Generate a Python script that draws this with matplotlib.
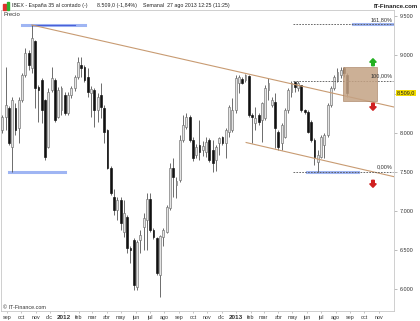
import matplotlib
matplotlib.use('Agg')
import matplotlib.pyplot as plt
from matplotlib.patches import Rectangle, FancyArrow
import numpy as np
import pandas as pd

plt.rcParams['font.family'] = ['Liberation Sans', 'DejaVu Sans']

# velas semanales IBEX, desde la semana del 22 ago 2011
first_week = pd.Timestamp('2011-08-22')
opens = [8038, 8204, 8319, 7821, 8319, 8064, 8422, 8742, 9023, 8831,
         9176, 8588, 8678, 8422, 7821, 8550, 8678, 8204, 8294, 8486,
         8256, 8486, 8575, 8716, 8869, 8844, 8716, 8511, 8550, 8294,
         8486, 8319, 8038, 7552, 7181, 7015, 7143, 6733, 6925, 6529,
         6631, 6030, 6630, 6797, 6887, 7155, 6759, 6656, 6183, 6669,
         6733, 7040, 7552, 7334, 7398, 7910, 8077, 8204, 7910, 7718,
         7847, 7782, 7757, 7910, 7782, 7654, 7872, 7949, 7872, 8013,
         8038, 8294, 8639, 8690, 8678, 8729, 8230, 8128, 8230, 8166,
         8192, 8550, 8358, 8396, 8013, 7872, 7949, 8294, 8524, 8652,
         8575, 8614, 8294, 8268, 8140, 7910, 7629, 7693, 7847, 7974,
         8358, 8575, 8678, 8742, 8831, 8742]
highs = [8230, 8844, 8345, 8460, 8383, 8460, 8767, 9087, 9061, 9381,
         9189, 8614, 8703, 8430, 8575, 8844, 8703, 8588, 8601, 8524,
         8524, 8601, 8742, 8972, 8972, 8869, 8831, 8601, 8575, 8511,
         8639, 8358, 8050, 7580, 7280, 7181, 7181, 7143, 6951, 6554,
         6656, 6631, 6760, 6976, 7232, 7232, 6785, 6669, 6695, 6785,
         7079, 7616, 7680, 7437, 7974, 8230, 8250, 8230, 7949, 7860,
         8166, 7900, 7949, 7936, 7910, 7847, 7949, 7960, 8064, 8358,
         8447, 8742, 8742, 8716, 8755, 8742, 8256, 8332, 8260, 8396,
         8614, 8703, 8460, 8511, 8038, 8128, 8320, 8575, 8660, 8671,
         8660, 8620, 8310, 8294, 8160, 7936, 7782, 7974, 8000, 8380,
         8600, 8740, 8831, 8844, 8844, 8767]
lows = [8000, 8038, 7847, 7501, 7974, 7872, 8396, 8716, 8806, 8767,
        8319, 8140, 8128, 7654, 7808, 8524, 8140, 8192, 8230, 8230,
        8230, 8447, 8540, 8690, 8716, 8652, 8460, 8204, 8077, 8140,
        8192, 7872, 7540, 7206, 6951, 6887, 6759, 6669, 6465, 6337,
        5991, 5991, 6465, 6503, 6503, 6733, 6640, 6183, 5902, 6550,
        6720, 7015, 7181, 7168, 7373, 7885, 8050, 7880, 7640, 7680,
        7654, 7700, 7690, 7629, 7501, 7520, 7718, 7840, 7680, 7949,
        8013, 8256, 8511, 8626, 8652, 8204, 7872, 8038, 8100, 7885,
        8166, 8422, 8330, 7808, 7782, 7782, 7930, 8256, 8460, 8524,
        8540, 8268, 8240, 8000, 7890, 7591, 7505, 7680, 7680, 7950,
        8330, 8550, 8652, 8703, 8716, 8460]
closes = [8204, 8358, 7872, 8422, 8038, 8422, 8742, 9023, 8869, 9215,
          8575, 8550, 8294, 7693, 8524, 8703, 8166, 8550, 8575, 8256,
          8486, 8575, 8716, 8908, 8831, 8678, 8524, 8563, 8294, 8460,
          8332, 8013, 7552, 7232, 7015, 7143, 6848, 6976, 6529, 6503,
          6055, 6605, 6700, 6912, 7155, 6759, 6669, 6209, 6682, 6759,
          7053, 7552, 7437, 7385, 7910, 8102, 8204, 7910, 7680, 7821,
          7757, 7834, 7885, 7654, 7616, 7821, 7936, 7872, 8038, 8332,
          8294, 8703, 8716, 8639, 8742, 8230, 8204, 8192, 8140, 8383,
          8575, 8639, 8422, 8064, 7821, 8102, 8294, 8550, 8639, 8588,
          8639, 8294, 8268, 8013, 7910, 7693, 7718, 7949, 7974, 8358,
          8575, 8716, 8780, 8806, 8767, 8509]

month_labels = ['sep', 'oct', 'nov', 'dic', '2012', 'feb', 'mar', 'abr', 'may',
                'jun', 'jul', 'ago', 'sep', 'oct', 'nov', 'dic', '2013', 'feb',
                'mar', 'abr', 'may', 'jun', 'jul', 'ago', 'sep', 'oct', 'nov']
price_ticks = [6000, 6500, 7000, 7500, 8000, 8500, 9000, 9500]

# lineas de tendencia (semana, precio)
upper_trend = [(9, 9381), (119.2, 8332)]
lower_trend = [(74.2, 7878), (119.2, 7441)]

o = np.array(opens, float)
h = np.array(highs, float)
l = np.array(lows, float)
c = np.array(closes, float)
x = np.arange(len(c))
up = c >= o

fig = plt.figure(figsize=(4.2, 3.21), dpi=100)
ax = fig.add_axes([1 / 420, 1 - 311 / 321, 393 / 420, 301 / 321])
ax.set_xlim(-0.4, 119.2)
ax.set_ylim(5723, 9573)

ax.vlines(x, l, h, color='#555555', lw=0.6, zorder=2)
ax.bar(x[up], (c - o)[up], bottom=o[up], width=0.58, color='#e4e4e4',
       edgecolor='#707070', lw=0.45, zorder=3)
ax.bar(x[~up], (o - c)[~up], bottom=c[~up], width=0.58, color='#111111',
       edgecolor='#111111', lw=0.45, zorder=3)

tan = '#c89b72'
for line in (upper_trend, lower_trend):
    ax.plot([line[0][0], line[1][0]], [line[0][1], line[1][1]], color=tan, lw=0.8, zorder=4)

# niveles fibonacci
fib_low = l[96]
fib_high = h[89]
fib_ext = fib_low + 1.618 * (fib_high - fib_low)
for lev, txt in ((fib_ext, '161,80%'), (fib_high, '100,00%'), (fib_low, '0,00%')):
    ax.plot([88.5, 119.0], [lev, lev], color='#555555', lw=0.6, ls=(0, (2, 1.5)), zorder=4)
    ax.text(118.8, lev + 25, txt, ha='right', va='bottom', fontsize=4, color='#333333', zorder=6)

blue = '#7f9cf0'
ax.plot([6.0, 25.2], [h[9], h[9]], color=blue, lw=2.2, alpha=0.75, zorder=1)
ax.plot([9.0, 22.0], [h[9], h[9]], color='#4a60d8', lw=0.8, zorder=1)
ax.plot([2.1, 19.0], [l[3], l[3]], color=blue, lw=2.2, alpha=0.75, zorder=1)
ax.plot([92.7, 108.2], [fib_low, fib_low], color=blue, lw=2.2, alpha=0.75, zorder=1)
ax.plot([106.7, 119.0], [fib_ext, fib_ext], color=blue, lw=2.2, alpha=0.75, zorder=1)

ax.add_patch(Rectangle((103.7, 8409), 10.3, 439, facecolor='#c4a284', edgecolor='#a88060',
                       lw=0.5, alpha=0.85, zorder=5))
ax.add_artist(FancyArrow(112.8, 8860, 0, 90, width=0.8, head_width=2.0, head_length=45,
                         length_includes_head=True, color='#22b020', zorder=6))
ax.add_artist(FancyArrow(112.8, 8380, 0, -90, width=0.8, head_width=2.0, head_length=45,
                         length_includes_head=True, color='#d02020', zorder=6))
ax.add_artist(FancyArrow(112.8, 7395, 0, -90, width=0.8, head_width=2.0, head_length=45,
                         length_includes_head=True, color='#d02020', zorder=6))

# ejes
months = pd.date_range('2011-09-01', '2013-11-01', freq='MS')
mpos = (months - first_week).days / 7.0
ax.set_xticks(mpos)
ax.set_xticklabels(month_labels)
for t, lab in zip(ax.get_xticklabels(), month_labels):
    t.set_fontsize(4.6 if lab.isdigit() else 3.9)
    t.set_fontweight('bold' if lab.isdigit() else 'normal')
    t.set_color('#333333')
ax.tick_params(axis='x', length=1.5, width=0.4, pad=1.2, color='#999999')
ax.yaxis.tick_right()
ax.set_yticks(price_ticks)
# la etiqueta 8.500 queda tapada por el precio actual
ax.set_yticklabels(['' if v == 8500 else f'{v:,}'.replace(',', '.') for v in price_ticks])
ax.tick_params(axis='y', length=2.5, width=0.4, pad=1.5, labelsize=4, color='#888888',
               labelcolor='#333333')
for s in ax.spines.values():
    s.set_color('#c8c8c8')
    s.set_linewidth(0.6)

last_txt = f'{c[-1]:,.1f}'.replace(',', 'X').replace('.', ',').replace('X', '.')
ax.text(1.007, c[-1], last_txt, transform=ax.get_yaxis_transform(), ha='left', va='center',
        fontsize=4, color='#222222',
        bbox=dict(boxstyle='square,pad=0.12', fc='#f2dc00', ec='none'), zorder=7)

ax.text(0.006, 0.995, 'Precio', transform=ax.transAxes, ha='left', va='top', fontsize=4.2, color='#333333')
ax.text(0.004, 0.004, '© IT-Finance.com', transform=ax.transAxes, ha='left', va='bottom',
        fontsize=3.9, color='#333333')

# cabecera
fig.text(12 / 420, 1 - 6 / 321, 'IBEX - España 35 al contado (-)', ha='left', va='center',
         fontsize=3.8, color='#222222')
fig.text(97 / 420, 1 - 6 / 321, '8.509,0 (-1,84%)', ha='left', va='center', fontsize=3.8, color='#222222')
fig.text(143 / 420, 1 - 6 / 321, 'Semanal  27 ago 2013 12:25 (11:25)', ha='left', va='center',
         fontsize=3.8, color='#222222')
fig.text(418 / 420, 1 - 6 / 321, 'IT-Finance.com', ha='right', va='center', fontsize=4.4,
         fontweight='bold', color='#222222')
fig.add_artist(Rectangle((3 / 420, 1 - 10 / 321), 2.5 / 420, 6 / 321, transform=fig.transFigure,
                         color='#e03030'))
fig.add_artist(Rectangle((6.5 / 420, 1 - 10 / 321), 2.5 / 420, 8 / 321, transform=fig.transFigure,
                         color='#30b030'))

fig.savefig('out.png', dpi=100)
